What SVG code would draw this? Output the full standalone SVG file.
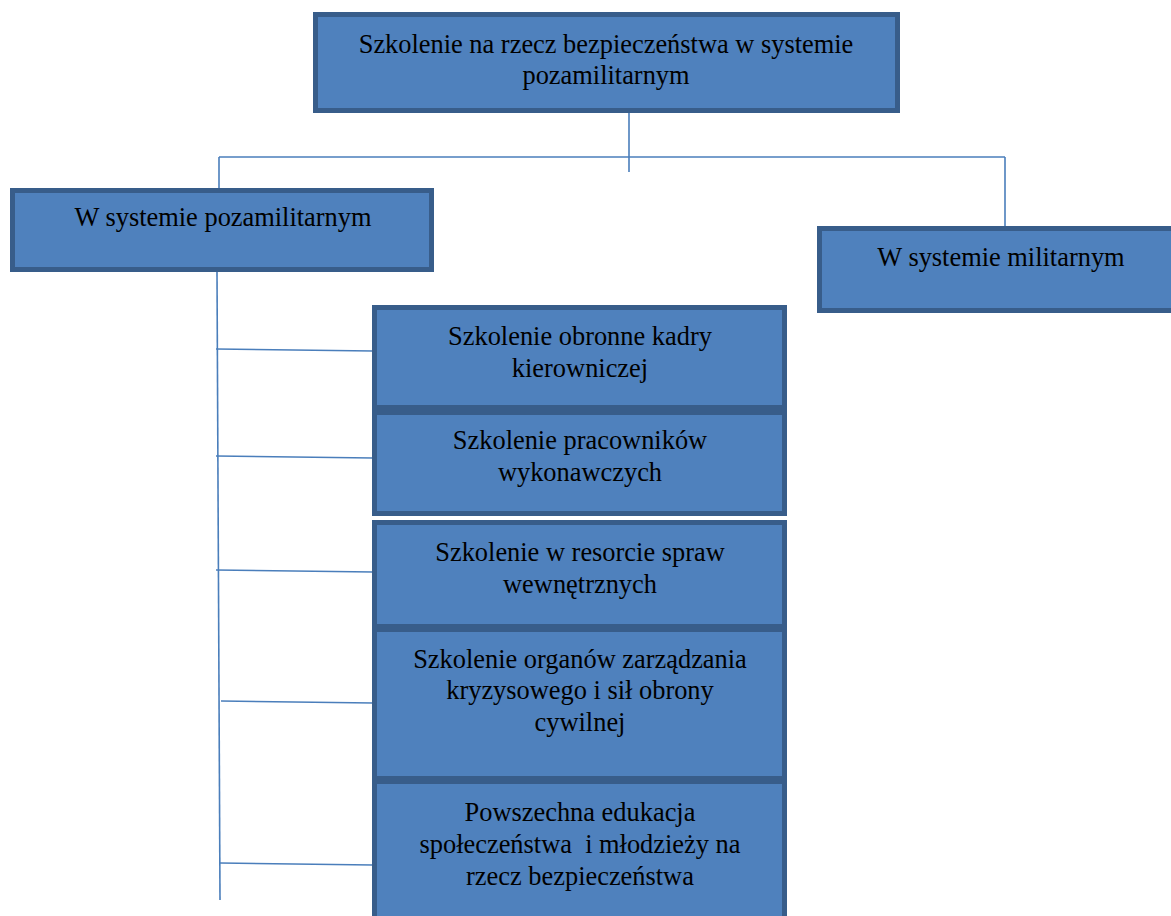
<svg xmlns="http://www.w3.org/2000/svg" width="1171" height="916" viewBox="0 0 1171 916">
<style>
.box{fill:#4f81bd;stroke:#385d8a;stroke-width:5}
.t{font-family:"Liberation Serif","Times New Roman",serif;font-size:26.4px;fill:#000;text-anchor:middle}
.c{stroke:#4a7ebb;stroke-width:1.6;fill:none}
</style>
<rect width="1171" height="916" fill="#fff"/>
<g id="connectors">
<line class="c" x1="629" y1="113" x2="629" y2="172"/>
<line class="c" x1="219" y1="157" x2="1005" y2="157"/>
<line class="c" x1="219" y1="157" x2="219" y2="189"/>
<line class="c" x1="1005" y1="157" x2="1005" y2="227"/>
<line class="c" x1="217" y1="272" x2="220" y2="900"/>
<line class="c" x1="216" y1="349" x2="373" y2="351"/>
<line class="c" x1="216" y1="456" x2="373" y2="458"/>
<line class="c" x1="216" y1="570" x2="373" y2="572"/>
<line class="c" x1="221" y1="701" x2="373" y2="703"/>
<line class="c" x1="220" y1="863" x2="373" y2="865"/>
</g>
<g id="root">
<rect class="box" x="315.5" y="14.5" width="582" height="96"/>
<text class="t" x="606" y="53">Szkolenie na rzecz bezpieczeństwa w systemie</text>
<text class="t" x="606" y="84">pozamilitarnym</text>
</g>
<g id="pozamilitarny">
<rect class="box" x="12.5" y="190.5" width="419" height="79"/>
<text class="t" x="223" y="226">W systemie pozamilitarnym</text>
</g>
<g id="militarny">
<rect class="box" x="819.5" y="228.5" width="370" height="82"/>
<text class="t" x="1001" y="266">W systemie militarnym</text>
</g>
<g id="kadra">
<rect class="box" x="374.5" y="307.5" width="410" height="100"/>
<text class="t" x="580" y="345">Szkolenie obronne kadry</text>
<text class="t" x="580" y="377">kierowniczej</text>
</g>
<g id="pracownicy">
<rect class="box" x="374.5" y="412.5" width="410" height="101"/>
<text class="t" x="580" y="449">Szkolenie pracowników</text>
<text class="t" x="580" y="481">wykonawczych</text>
</g>
<g id="resort">
<rect class="box" x="374.5" y="522.5" width="410" height="104"/>
<text class="t" x="580" y="561">Szkolenie w resorcie spraw</text>
<text class="t" x="580" y="593">wewnętrznych</text>
</g>
<g id="kryzys">
<rect class="box" x="374.5" y="629.5" width="410" height="149"/>
<text class="t" x="580" y="668">Szkolenie organów zarządzania</text>
<text class="t" x="580" y="699">kryzysowego i sił obrony</text>
<text class="t" x="580" y="731">cywilnej</text>
</g>
<g id="edukacja">
<rect class="box" x="374.5" y="781.5" width="410" height="150"/>
<text class="t" x="580" y="821">Powszechna edukacja</text>
<text class="t" x="580" y="853" xml:space="preserve">społeczeństwa  i młodzieży na</text>
<text class="t" x="580" y="885">rzecz bezpieczeństwa</text>
</g>
</svg>
